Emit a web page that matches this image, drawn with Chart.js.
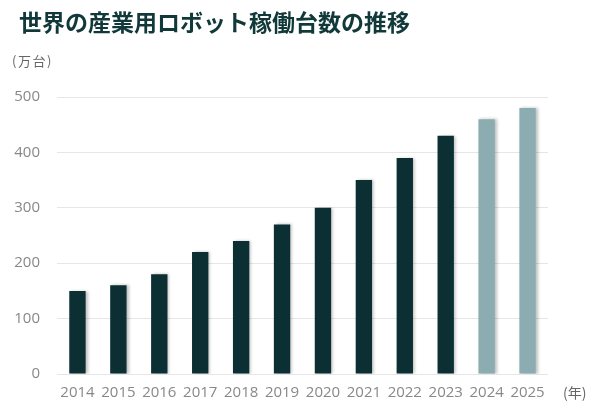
<!DOCTYPE html>
<html>
<head>
<meta charset="utf-8">
<script src="https://cdn.jsdelivr.net/npm/chart.js@4"></script>
<style>
  body { margin: 0; background: #fff; }
  #wrap { position: relative; width: 600px; height: 411px; }
  #title { position: absolute; left: 19px; top: 4px; font: bold 23px "Noto Sans CJK JP", sans-serif; color: #12393a; }
  #unit { position: absolute; left: 12px; top: 51px; font: 13px "Noto Sans CJK JP", sans-serif; color: #666; letter-spacing: 1.5px; }
  #year { position: absolute; left: 563px; top: 382px; font: 14px "Noto Sans CJK JP", sans-serif; color: #666; }
  canvas { position: absolute; left: 0; top: 0; }
</style>
</head>
<body>
<div id="wrap">
  <canvas id="robots" width="600" height="411"></canvas>
  <div id="title">世界の産業用ロボット稼働台数の推移</div>
  <div id="unit">(万台)</div>
  <div id="year">(年)</div>
</div>
<script>
let years = ['2014','2015','2016','2017','2018','2019','2020','2021','2022','2023','2024','2025'];
let units = [150, 160, 180, 220, 240, 270, 300, 350, 390, 430, 460, 480];
let forecast = [false, false, false, false, false, false, false, false, false, false, true, true];
let yTicks = [0, 100, 200, 300, 400, 500];

let barShadow = {
    id: 'barShadow',
    beforeDatasetsDraw: function(chart) {
        let c = chart.ctx;
        c.save();
        c.shadowColor = 'rgba(0,0,0,0.25)';
        c.shadowOffsetX = 2;
        c.shadowOffsetY = 0;
        c.shadowBlur = 3;
    },
    afterDatasetsDraw: function(chart) {
        chart.ctx.restore();
    }
};

let robots = document.getElementById('robots').getContext('2d');

let robotChart = new Chart(robots, {
    type: 'bar',
    data: {
        labels: years,
        datasets: [{
            label: '稼働台数',
            data: units,
            backgroundColor: forecast.map(f => f ? '#8badb1' : '#0b2f33'),
            barPercentage: 0.4,
            categoryPercentage: 1.0
        }]
    },
    options: {
        responsive: false,
        animation: false,
        layout: {
            padding: { top: 97, right: 52, bottom: 0, left: 0 }
        },
        plugins: {
            legend: { display: false },
            tooltip: { enabled: false }
        },
        scales: {
            x: {
                afterFit: function(scale) {
                    scale.height = 37;
                },
                grid: { display: false },
                border: { display: false },
                ticks: {
                    color: '#888',
                    padding: 2,
                    font: { family: 'Open Sans', size: 15 }
                }
            },
            y: {
                min: 0,
                max: 500,
                afterBuildTicks: function(scale) {
                    scale.ticks = yTicks.map(v => ({ value: v }));
                },
                afterFit: function(scale) {
                    scale.width = 57;
                },
                grid: { color: '#e6e6e6', drawTicks: false },
                border: { display: false },
                ticks: {
                    color: '#888',
                    padding: 17,
                    font: { family: 'Open Sans', size: 15 }
                }
            }
        }
    },
    plugins: [barShadow]
});
</script>
</body>
</html>
